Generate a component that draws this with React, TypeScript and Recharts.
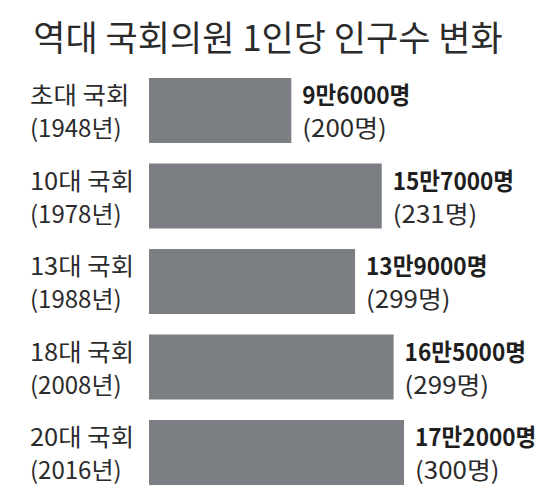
import React from 'react';
import { BarChart, Bar, XAxis, YAxis, LabelList } from 'recharts';

const assemblies = ['초대 국회', '10대 국회', '13대 국회', '18대 국회', '20대 국회'];
const years = ['(1948년)', '(1978년)', '(1988년)', '(2008년)', '(2016년)'];
const populationPerMember = [96000, 157000, 139000, 165000, 172000];
const memberCounts = [200, 231, 299, 299, 300];

const data = assemblies.map((name, i) => ({
  name,
  year: years[i],
  value: populationPerMember[i],
  members: memberCounts[i],
}));

const FONT = '"Noto Sans CJK KR", "Noto Sans", sans-serif';
const FS = 24;

const formatPop = (v: number) => `${Math.floor(v / 10000)}만${v % 10000}명`;

const CategoryTick = (props: any) => {
  const { y, payload } = props;
  const d = data.find((r) => r.name === payload.value) || data[0];
  return (
    <g>
      <g transform={`translate(30,${Number(y) - 6.5}) scale(1.06,1)`}>
        <text x={0} y={0} fontSize={FS} fill="#2b2b2b" fontFamily={FONT} textAnchor="start">
          {d.name}
        </text>
      </g>
      <g transform={`translate(30,${Number(y) + 26.5}) scale(1.0,1)`}>
        <text x={0} y={0} fontSize={FS} fill="#2b2b2b" fontFamily={FONT} textAnchor="start">
          {d.year}
        </text>
      </g>
    </g>
  );
};

const ValueLabel = (props: any) => {
  const { x, y, width, height, index } = props;
  const d = data[index];
  const cy = Number(y) + Number(height) / 2;
  const lx = Number(x) + Number(width) + 11;
  return (
    <g>
      <g transform={`translate(${lx},${cy - 6.5}) scale(0.94,1)`}>
        <text x={0} y={0} fontSize={FS} fontWeight={700} fill="#1e1e1e" fontFamily={FONT}>
          {formatPop(d.value)}
        </text>
      </g>
      <g transform={`translate(${lx},${cy + 26.5}) scale(1.08,1)`}>
        <text x={0} y={0} fontSize={FS} fill="#2b2b2b" fontFamily={FONT}>
          {`(${d.members}명)`}
        </text>
      </g>
    </g>
  );
};

export default function App() {
  return (
    <div
      style={{
        position: 'absolute',
        left: 0,
        top: 0,
        width: 536,
        height: 504,
        background: '#ffffff',
        overflow: 'hidden',
      }}
    >
      <div
        style={{
          position: 'absolute',
          left: 0,
          top: 16,
          width: 536,
          textAlign: 'center',
          fontFamily: FONT,
          fontSize: 35,
          lineHeight: '40px',
          color: '#2b2b2b',
          whiteSpace: 'nowrap',
        }}
      >
        역대 국회의원 1인당 인구수 변화
      </div>
      <BarChart
        width={536}
        height={504}
        data={data}
        layout="vertical"
        margin={{ top: 68, right: 90.5, bottom: 8.5, left: 0 }}
        style={{ overflow: 'visible' }}
      >
        <XAxis type="number" domain={[0, 200000]} hide />
        <YAxis
          type="category"
          dataKey="name"
          width={149}
          axisLine={false}
          tickLine={false}
          tick={<CategoryTick />}
          interval={0}
        />
        <Bar dataKey="value" fill="#7b7f83" barSize={65} isAnimationActive={false}>
          <LabelList dataKey="value" content={<ValueLabel />} />
        </Bar>
      </BarChart>
    </div>
  );
}
